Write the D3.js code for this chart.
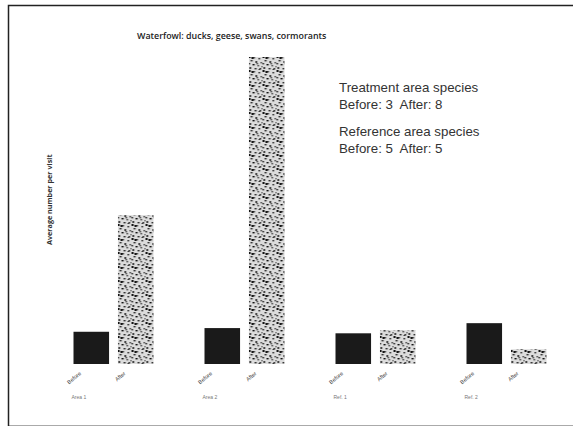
<!DOCTYPE html>
<html><head><meta charset="utf-8">
<script src="https://cdn.jsdelivr.net/npm/d3@7"></script>
<style>body{margin:0;background:#fff}svg{display:block}text{white-space:pre}</style>
</head><body>
<script>
const groups = ["Area 1", "Area 2", "Ref. 1", "Ref. 2"];
const periods = ["Before", "After"];
const beforeValues = [1.05, 1.17, 1.0, 1.33];
const afterValues = [4.85, 10.0, 1.1, 0.48];
const title = "Waterfowl: ducks, geese, swans, cormorants";
const yLabel = "Average number per visit";
const notes = ["Treatment area species", "Before: 3  After: 8", "Reference area species", "Before: 5  After: 5"];

const W = 573, H = 427;
const svg = d3.select("body").append("svg").attr("width", W).attr("height", H);

// stipple pattern (texture only)
const defs = svg.append("defs");
const pat = defs.append("pattern").attr("id", "stip").attr("patternUnits", "userSpaceOnUse")
  .attr("width", 14).attr("height", 14);
pat.append("rect").attr("width", 14).attr("height", 14).attr("fill", "#dcdcdc");
const dots = [[0,0],[5,1],[10,2],[2,4],[7,5],[12,6],[4,8],[9,9],[1,11],[6,12],[11,12],[13,10],[3,1],[8,7],[0,7],[10,13]];
dots.forEach(([dx,dy],i)=>pat.append("rect").attr("x",dx).attr("y",dy)
  .attr("width", i%3===0?2.2:1.5).attr("height", i%4===0?2:1.4).attr("fill", i%2? "#3a3a3a":"#151515"));

// frame
svg.append("path").attr("d", "M8,425.5 H573").attr("fill","none").attr("stroke","#aaa").attr("stroke-width",1);
svg.append("path").attr("d", "M8.5,426 V5.5 H573").attr("fill","none").attr("stroke","#222").attr("stroke-width",1.5);

const x0 = d3.scaleBand().domain(groups).range([47.5, 571.5]);
const x1 = d3.scaleBand().domain(periods).range([26, 106]).paddingInner(0.2);
const y = d3.scaleLinear().domain([0, 10]).range([364, 57]);

const data = groups.map((g, i) => ({g, vals: [
  {p: "Before", v: beforeValues[i]}, {p: "After", v: afterValues[i]}]}));

const gg = svg.selectAll("g.grp").data(data).join("g").attr("class", "grp")
  .attr("transform", d => `translate(${x0(d.g)},0)`);

gg.selectAll("rect").data(d => d.vals).join("rect")
  .attr("x", d => x1(d.p)).attr("width", x1.bandwidth())
  .attr("y", d => y(d.v)).attr("height", d => y(0) - y(d.v))
  .attr("fill", d => d.p === "Before" ? "#1a1a1a" : "url(#stip)");

gg.selectAll("text.per").data(d => d.vals).join("text").attr("class", "per")
  .attr("transform", d => `translate(${x1(d.p) + 8},${374}) rotate(-40)`)
  .attr("text-anchor", "end").attr("font-family", "Liberation Sans, Arial, sans-serif")
  .attr("font-size", 5.5).attr("fill", "#333").text(d => d.p);

gg.append("text").attr("x", x1("Before") - 2).attr("y", 399)
  .attr("font-family", "Liberation Sans, Arial, sans-serif").attr("font-size", 5)
  .attr("fill", "#777").text(d => d.g);

svg.append("text").attr("x", 137).attr("y", 39)
  .attr("font-family", "Open Sans, sans-serif").attr("font-size", 8.9).attr("font-weight", 600)
  .attr("fill", "#222").text(title);

svg.append("text").attr("transform", "translate(52,245) rotate(-90)")
  .attr("font-family", "Open Sans, sans-serif").attr("font-size", 7.2).attr("font-weight", 700)
  .attr("fill", "#333").text(yLabel);

const ny = [92, 109, 136, 153];
svg.selectAll("text.note").data(notes).join("text").attr("class", "note")
  .attr("x", 339).attr("y", (d, i) => ny[i])
  .attr("font-family", "Liberation Sans, Arial, sans-serif").attr("font-size", 13.3)
  .attr("fill", "#333").text(d => d);
</script>
</body></html>
